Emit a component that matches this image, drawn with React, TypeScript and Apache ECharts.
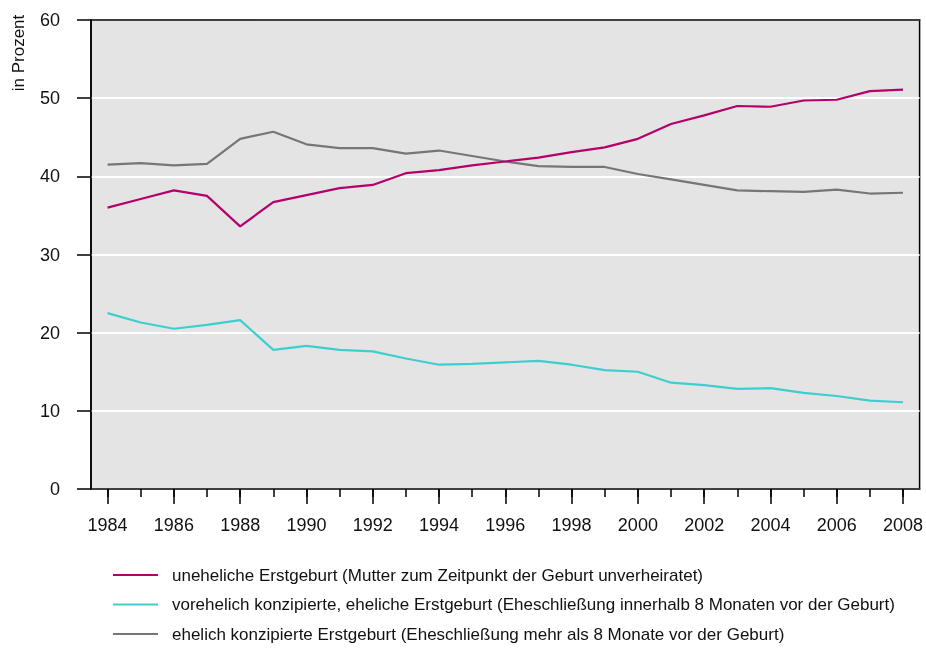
import React, { useEffect, useRef } from "react";
import * as echarts from "echarts";

const years = [
  "1984", "1985", "1986", "1987", "1988", "1989", "1990", "1991", "1992", "1993",
  "1994", "1995", "1996", "1997", "1998", "1999", "2000", "2001", "2002", "2003",
  "2004", "2005", "2006", "2007", "2008",
];

const unehelich = [
  36.0, 37.1, 38.2, 37.5, 33.6, 36.7, 37.6, 38.5, 38.9, 40.4,
  40.8, 41.4, 41.9, 42.4, 43.1, 43.7, 44.8, 46.7, 47.8, 49.0,
  48.9, 49.7, 49.8, 50.9, 51.1,
];

const vorehelich = [
  22.5, 21.3, 20.5, 21.0, 21.6, 17.8, 18.3, 17.8, 17.6, 16.7,
  15.9, 16.0, 16.2, 16.4, 15.9, 15.2, 15.0, 13.6, 13.3, 12.8,
  12.9, 12.3, 11.9, 11.3, 11.1,
];

const ehelich = [
  41.5, 41.7, 41.4, 41.6, 44.8, 45.7, 44.1, 43.6, 43.6, 42.9,
  43.3, 42.6, 41.9, 41.3, 41.2, 41.2, 40.3, 39.6, 38.9, 38.2,
  38.1, 38.0, 38.3, 37.8, 37.9,
];

const seriesNames = [
  "uneheliche Erstgeburt (Mutter zum Zeitpunkt der Geburt unverheiratet)",
  "vorehelich konzipierte, eheliche Erstgeburt (Eheschließung innerhalb 8 Monaten vor der Geburt)",
  "ehelich konzipierte Erstgeburt (Eheschließung mehr als 8 Monate vor der Geburt)",
];

const colors = ["#b5006b", "#3dcfcf", "#767676"];

const FONT = "'Liberation Sans Narrow', 'Arial Narrow', 'Liberation Sans', Arial, sans-serif";

export default function App() {
  const ref = useRef<HTMLDivElement>(null);

  useEffect(() => {
    if (!ref.current) return;
    const chart = echarts.init(ref.current, null, { renderer: "svg" });
    const dataSets = [unehelich, vorehelich, ehelich];
    chart.setOption({
      animation: false,
      textStyle: { fontFamily: FONT },
      grid: {
        left: 91,
        right: 4,
        top: 20,
        bottom: 159,
        show: true,
        backgroundColor: "#e4e4e4",
        borderColor: "#000",
        borderWidth: 1.5,
      },
      legend: {
        orient: "vertical",
        left: 108,
        top: 560,
        width: 810,
        height: 90,
        icon: "rect",
        itemWidth: 45,
        itemHeight: 2,
        itemGap: 9.5,
        selectedMode: false,
        data: seriesNames,
        textStyle: {
          fontFamily: FONT,
          fontSize: 17,
          color: "#111",
          lineHeight: 20,
          padding: [0, 0, 0, 9],
        },
      },
      graphic: [
        {
          type: "text",
          x: 18,
          y: 53,
          rotation: Math.PI / 2,
          style: {
            text: "in Prozent",
            fontFamily: FONT,
            fontSize: 17,
            fill: "#111",
            align: "center",
            verticalAlign: "middle",
          },
        },
      ],
      xAxis: [
        {
          type: "category",
          data: years,
          boundaryGap: true,
          axisLine: { show: true, lineStyle: { color: "#000", width: 1.5 } },
          axisTick: { show: true, alignWithLabel: true, interval: 0, length: 8, lineStyle: { color: "#000", width: 1.5 } },
          axisLabel: { show: false },
          splitLine: { show: false },
        },
        {
          type: "category",
          data: years,
          position: "bottom",
          boundaryGap: true,
          axisLine: { show: false },
          axisTick: { show: true, alignWithLabel: true, interval: 1, length: 15, lineStyle: { color: "#000", width: 1.5 } },
          axisLabel: { show: true, interval: 1, margin: 27, fontSize: 18, color: "#111", fontFamily: FONT },
          splitLine: { show: false },
        },
        {
          type: "category",
          data: years,
          position: "top",
          boundaryGap: true,
          axisLine: { show: true, lineStyle: { color: "#000", width: 1.5 } },
          axisTick: { show: false },
          axisLabel: { show: false },
          splitLine: { show: false },
          z: 10,
        },
      ],
      yAxis: {
        type: "value",
        min: 0,
        max: 60,
        interval: 10,
        axisLine: { show: true, lineStyle: { color: "#000", width: 1.5 } },
        axisTick: { show: true, length: 14, lineStyle: { color: "#000", width: 1.5 } },
        axisLabel: { margin: 31, fontSize: 18, color: "#111", fontFamily: FONT },
        splitLine: { show: true, lineStyle: { color: "#ffffff", width: 2 } },
      },
      series: dataSets.map((d, i) => ({
        name: seriesNames[i],
        type: "line",
        data: d,
        xAxisIndex: 0,
        symbol: "none",
        showSymbol: false,
        color: colors[i],
        lineStyle: { color: colors[i], width: 2.2 },
        itemStyle: { color: colors[i] },
        z: 3 - i,
      })),
    });
    return () => chart.dispose();
  }, []);

  return (
    <div
      ref={ref}
      style={{ position: "fixed", left: 0, top: 0, width: 926, height: 648 }}
    />
  );
}
